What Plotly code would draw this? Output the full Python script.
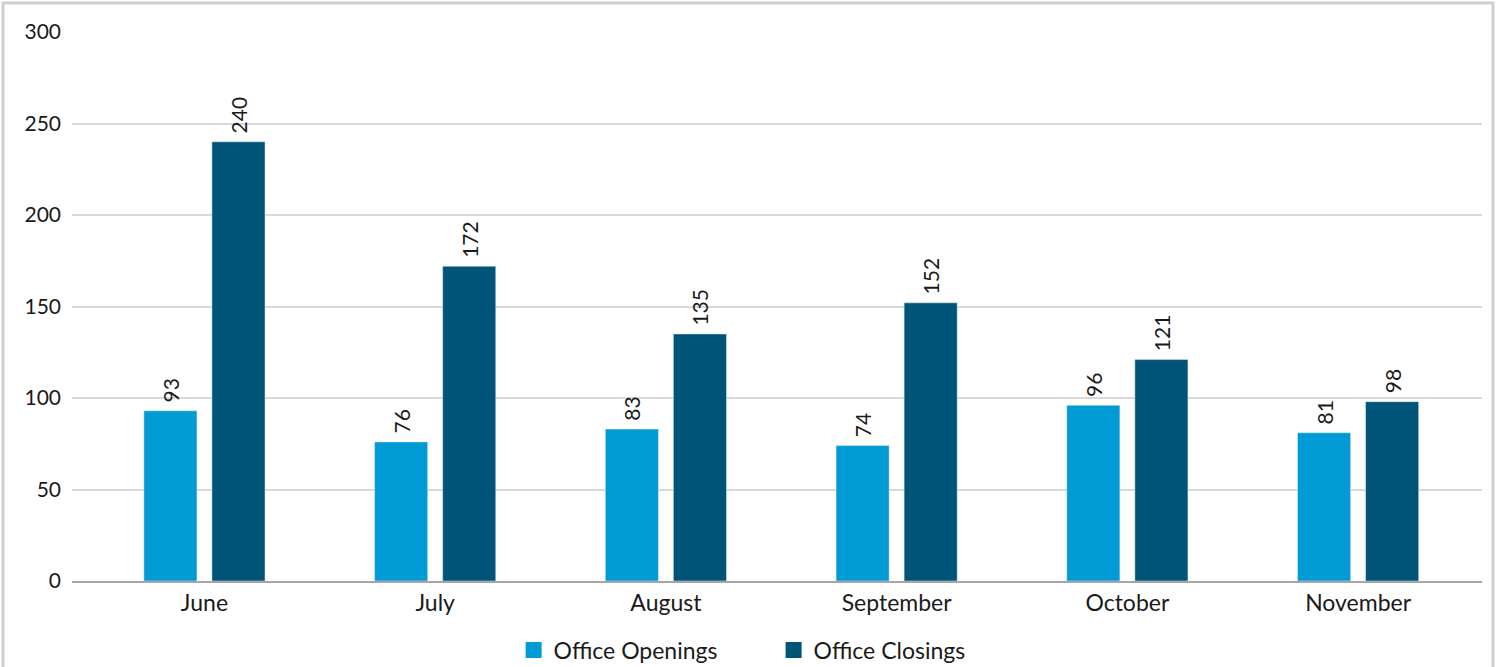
import plotly.graph_objects as go

months = ["June", "July", "August", "September", "October", "November"]
openings = [93, 76, 83, 74, 96, 81]
closings = [240, 172, 135, 152, 121, 98]
series_names = ["Office Openings", "Office Closings"]
colors = ["#009ad4", "#005478"]

FONT = "Lato, Roboto, sans-serif"
FS = 21
FS_CAT = 23

fig = go.Figure()
for name, vals, col in zip(series_names, [openings, closings], colors):
    fig.add_trace(go.Bar(
        name=name, x=months, y=vals,
        marker_color=col, text=vals, texttemplate="\u00a0%{y}",
        textposition="outside",
        textangle=-90, textfont=dict(size=FS, color="#1a1a1a", family=FONT),
        cliponaxis=False, showlegend=False,
    ))
# legend entries with larger square swatches
for name, col in zip(series_names, colors):
    fig.add_trace(go.Scatter(
        name=name, x=[None], y=[None], mode="markers",
        marker=dict(symbol="square", size=16, color=col, line=dict(width=0)),
        showlegend=True,
    ))

fig.update_layout(
    width=1499, height=667,
    margin=dict(l=72, r=17, t=32, b=86, autoexpand=False),
    paper_bgcolor="white", plot_bgcolor="white",
    font=dict(family=FONT, size=FS, color="#1a1a1a"),
    barmode="group", bargap=0.41, bargroupgap=0.22,
    xaxis=dict(
        type="category", range=[-0.574, 5.537],
        showgrid=False, showline=True, linecolor="#a6a6a6", linewidth=2,
        ticks="", tickfont=dict(size=FS_CAT),
    ),
    yaxis=dict(
        range=[0, 300], tickvals=[0, 50, 100, 150, 200, 250, 300],
        showgrid=True, gridcolor="#d9d9d9", gridwidth=1.5,
        zeroline=False, showline=False, ticks="",
        tickfont=dict(size=FS), ticklabelstandoff=10,
    ),
    legend=dict(
        orientation="h", x=0.4976, xanchor="center", y=-0.126, yanchor="middle",
        font=dict(size=FS_CAT), itemwidth=30, tracegroupgap=0,
        entrywidth=215, entrywidthmode="pixels",
    ),
    showlegend=True,
    shapes=[dict(
        type="rect", xref="paper", yref="paper",
        x0=(3 - 72) / 1410, x1=(1493 - 72) / 1410,
        y0=(581 - 680) / 549, y1=(581 - 3) / 549,
        line=dict(color="#cfcfcf", width=3), fillcolor="rgba(0,0,0,0)",
        layer="below",
    )],
)

fig.write_html(
    "out.html",
    config={"displayModeBar": False},
    post_script="document.body.style.margin='0';document.body.style.overflow='hidden';",
)
